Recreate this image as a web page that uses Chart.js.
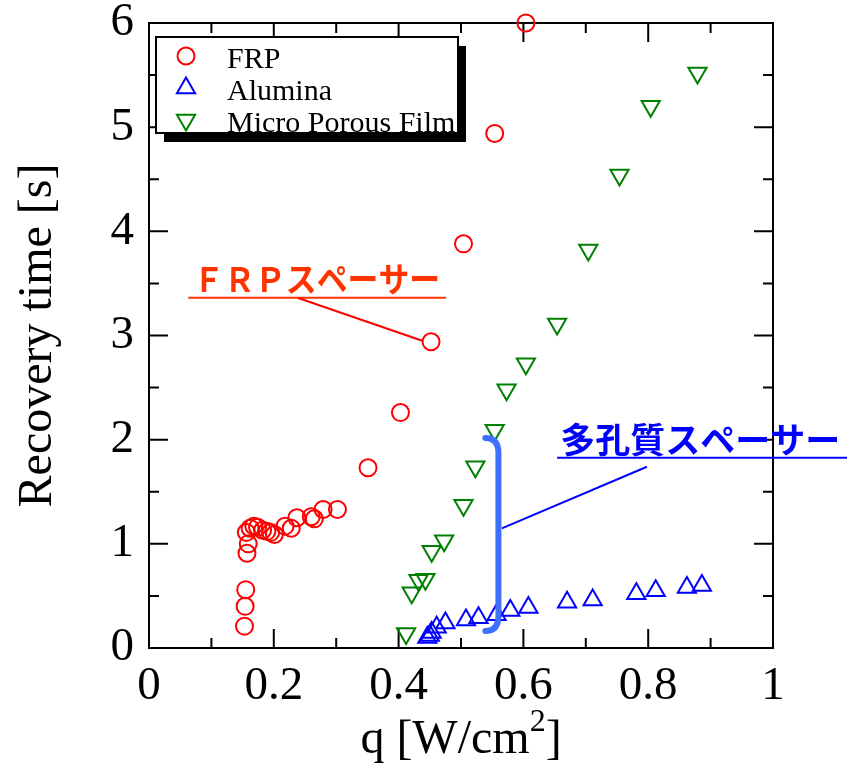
<!DOCTYPE html>
<html lang="ja">
<head>
<meta charset="UTF-8">
<title>Recovery time</title>
<script src="https://cdn.jsdelivr.net/npm/chart.js"></script>
<style>
  body { margin: 0; background: #fff; }
  #wrap { width: 847px; height: 765px; }
</style>
</head>
<body>
<div id="wrap"><canvas id="chart" width="847" height="765"></canvas></div>
<script>
// values: q [W/cm2] and recovery time [s]
const frpQ = [0.153, 0.154, 0.155, 0.157, 0.159, 0.156, 0.162, 0.168, 0.174, 0.182, 0.189, 0.195, 0.201,
              0.218, 0.228, 0.237, 0.260, 0.265, 0.279, 0.302, 0.351, 0.403, 0.452, 0.504, 0.554, 0.604];
const frpT = [0.21, 0.40, 0.56, 0.91, 1.00, 1.11, 1.15, 1.17, 1.16, 1.13, 1.12, 1.11, 1.09,
              1.17, 1.15, 1.25, 1.26, 1.24, 1.33, 1.33, 1.73, 2.26, 2.94, 3.88, 4.94, 6.00];

const aluminaQ = [0.446, 0.450, 0.453, 0.461, 0.475, 0.508, 0.528, 0.557, 0.579, 0.608,
                  0.670, 0.711, 0.781, 0.812, 0.862, 0.886];
const aluminaT = [0.10, 0.12, 0.15, 0.20, 0.24, 0.27, 0.29, 0.32, 0.36, 0.39,
                  0.44, 0.46, 0.52, 0.55, 0.58, 0.60];

const porousQ = [0.412, 0.421, 0.432, 0.443, 0.453, 0.473, 0.504, 0.523, 0.554, 0.573,
                 0.604, 0.654, 0.704, 0.754, 0.804, 0.879];
const porousT = [0.14, 0.53, 0.65, 0.66, 0.93, 1.03, 1.37, 1.74, 2.09, 2.48,
                 2.73, 3.11, 3.82, 4.54, 5.20, 5.52];

const seriesNames = ['FRP', 'Alumina', 'Micro Porous Film'];
const xTitleParts = ['q [W/cm', '2', ']'];   // base, superscript, closing
const yTitle = 'Recovery time [s]';
const frpNote = 'ＦＲＰスペーサー';
const porousNote = '多孔質スペーサー';

const serif = "'Liberation Serif', 'Times New Roman', serif";
const gothic = "'Noto Sans CJK JP', 'Noto Sans', sans-serif";

function toPoints(xs, ys) {
    return xs.map((x, i) => ({ x: x, y: ys[i] }));
}

// frame, inward ticks, x title, legend box and the two notes
const decor = {
    id: 'decor',
    beforeDatasetsDraw(chart) {
        const ctx = chart.ctx;
        const a = chart.chartArea;
        const sx = chart.scales.x, sy = chart.scales.y;
        ctx.save();
        ctx.strokeStyle = '#000';
        ctx.lineWidth = 2;
        ctx.strokeRect(a.left, a.top, a.right - a.left, a.bottom - a.top);
        ctx.beginPath();
        for (let i = 0; i <= 10; i++) {
            const x = sx.getPixelForValue(i / 10);
            const len = i % 2 === 0 ? 19 : 10;
            ctx.moveTo(x, a.bottom); ctx.lineTo(x, a.bottom - len);
            ctx.moveTo(x, a.top); ctx.lineTo(x, a.top + len);
        }
        for (let i = 0; i <= 12; i++) {
            const y = sy.getPixelForValue(i / 2);
            const len = i % 2 === 0 ? 19 : 10;
            ctx.moveTo(a.left, y); ctx.lineTo(a.left + len, y);
            ctx.moveTo(a.right, y); ctx.lineTo(a.right - len, y);
        }
        ctx.stroke();

        // x title with a real superscript
        const big = '48px ' + serif, small = '32px ' + serif;
        ctx.font = big;
        const w0 = ctx.measureText(xTitleParts[0]).width;
        const w2 = ctx.measureText(xTitleParts[2]).width;
        ctx.font = small;
        const w1 = ctx.measureText(xTitleParts[1]).width;
        let tx = (a.left + a.right) / 2 - (w0 + w1 + w2) / 2;
        const base = a.bottom + 105;
        ctx.fillStyle = '#000';
        ctx.textBaseline = 'alphabetic';
        ctx.textAlign = 'left';
        ctx.font = big;
        ctx.fillText(xTitleParts[0], tx, base);
        tx += w0;
        ctx.font = small;
        ctx.fillText(xTitleParts[1], tx, base - 22);
        tx += w1;
        ctx.font = big;
        ctx.fillText(xTitleParts[2], tx, base);
        ctx.restore();
    },
    afterDatasetsDraw(chart) {
        const ctx = chart.ctx;
        const a = chart.chartArea;
        const sx = chart.scales.x, sy = chart.scales.y;
        const px = v => sx.getPixelForValue(v);
        const py = v => sy.getPixelForValue(v);
        ctx.save();

        // legend with drop shadow
        const lx = a.left + 7, ly = a.top + 14, lw = 302, lh = 96;
        ctx.fillStyle = '#000';
        ctx.fillRect(lx + 8, ly + 9, lw, lh);
        ctx.fillStyle = '#fff';
        ctx.fillRect(lx, ly, lw, lh);
        ctx.lineWidth = 2;
        ctx.strokeStyle = '#000';
        ctx.strokeRect(lx, ly, lw, lh);
        const ds = chart.data.datasets;
        ctx.font = '30px ' + serif;
        ctx.textBaseline = 'alphabetic';
        ctx.textAlign = 'left';
        for (let i = 0; i < ds.length; i++) {
            const cy = ly + 19 + i * 32;
            ctx.strokeStyle = ds[i].borderColor;
            ctx.fillStyle = 'rgba(0,0,0,0)';
            Chart.helpers.drawPoint(ctx, {
                pointStyle: ds[i].pointStyle,
                rotation: ds[i].rotation || 0,
                radius: ds[i].pointRadius,
                borderWidth: 2
            }, lx + 30, cy);
            ctx.fillStyle = '#000';
            ctx.fillText(ds[i].label, lx + 71, cy + 12);
        }

        // FRP note
        ctx.fillStyle = '#ff3300';
        ctx.font = 'bold 34px ' + gothic;
        ctx.textBaseline = 'middle';
        ctx.fillText(frpNote, px(0.071), py(3.54), px(0.4666) - px(0.071));
        ctx.strokeStyle = '#ff3300';
        ctx.lineWidth = 2;
        ctx.beginPath();
        ctx.moveTo(px(0.063), py(3.363)); ctx.lineTo(px(0.476), py(3.363));
        ctx.stroke();
        ctx.strokeStyle = '#ff0000';
        ctx.beginPath();
        ctx.moveTo(px(0.239), py(3.36)); ctx.lineTo(px(0.439), py(2.947));
        ctx.stroke();

        // porous spacer note
        ctx.fillStyle = '#0000ff';
        ctx.font = 'bold 35px ' + gothic;
        ctx.fillText(porousNote, px(0.659), py(2.0), px(1.115) - px(0.659));
        ctx.strokeStyle = '#0000ff';
        ctx.beginPath();
        ctx.moveTo(px(0.654), py(1.827)); ctx.lineTo(px(1.12), py(1.827));
        ctx.stroke();
        ctx.beginPath();
        ctx.moveTo(px(0.798), py(1.74)); ctx.lineTo(px(0.5654), py(1.149));
        ctx.stroke();

        // bracket
        const bx = px(0.56), bl = px(0.539), bt = py(2.016), bb = py(0.163);
        ctx.strokeStyle = '#4070ff';
        ctx.lineWidth = 6;
        ctx.lineCap = 'round';
        ctx.beginPath();
        ctx.moveTo(bl, bt);
        ctx.quadraticCurveTo(bx, bt, bx, bt + 15);
        ctx.lineTo(bx, bb - 15);
        ctx.quadraticCurveTo(bx, bb, bl, bb);
        ctx.stroke();

        ctx.restore();
    }
};

new Chart(document.getElementById('chart'), {
    type: 'scatter',
    data: {
        datasets: [
            {
                label: seriesNames[0],
                data: toPoints(frpQ, frpT),
                pointStyle: 'circle',
                pointRadius: 8.5,
                borderColor: '#ff0000',
                backgroundColor: 'rgba(0,0,0,0)',
                borderWidth: 2,
                clip: false
            },
            {
                label: seriesNames[1],
                data: toPoints(aluminaQ, aluminaT),
                pointStyle: 'triangle',
                pointRadius: 10.5,
                borderColor: '#0000ff',
                backgroundColor: 'rgba(0,0,0,0)',
                borderWidth: 2,
                clip: false
            },
            {
                label: seriesNames[2],
                data: toPoints(porousQ, porousT),
                pointStyle: 'triangle',
                rotation: 180,
                pointRadius: 10.5,
                borderColor: '#008000',
                backgroundColor: 'rgba(0,0,0,0)',
                borderWidth: 2,
                clip: false
            }
        ]
    },
    options: {
        responsive: false,
        animation: false,
        layout: { padding: { left: 0, top: 23, right: 74, bottom: 0 } },
        plugins: {
            legend: { display: false },
            tooltip: { enabled: false }
        },
        scales: {
            x: {
                type: 'linear',
                min: 0,
                max: 1,
                grid: { display: false },
                border: { display: false },
                ticks: {
                    stepSize: 0.2,
                    autoSkip: false,
                    maxRotation: 0,
                    padding: 2,
                    color: '#000',
                    font: { family: serif, size: 47 },
                    callback: v => String(Math.round(v * 10) / 10)
                },
                title: { display: false },
                afterFit(s) {
                    s.height = 117;
                    s.paddingLeft = 0;
                    s.paddingRight = 0;
                }
            },
            y: {
                type: 'linear',
                min: 0,
                max: 6,
                grid: { display: false },
                border: { display: false },
                ticks: {
                    stepSize: 1,
                    autoSkip: false,
                    padding: 7,
                    color: '#000',
                    font: { family: serif, size: 47 }
                },
                title: {
                    display: true,
                    text: yTitle,
                    color: '#000',
                    font: { family: serif, size: 48 },
                    padding: { top: 10, bottom: 0 }
                },
                afterFit(s) {
                    s.width = 149;
                    s.paddingTop = 0;
                    s.paddingBottom = 0;
                }
            }
        }
    },
    plugins: [decor]
});
</script>
</body>
</html>
